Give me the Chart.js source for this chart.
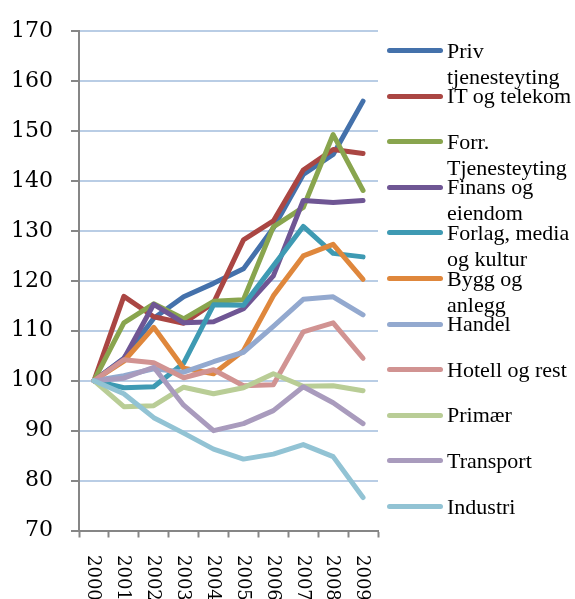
<!DOCTYPE html>
<html>
<head>
<meta charset="utf-8">
<script src="https://cdn.jsdelivr.net/npm/chart.js@4"></script>
<style>
  body { margin: 0; background: #fff; }
  .wrap { position: relative; width: 575px; height: 599px; }
  #legend { position: absolute; left: 0; top: 0; }
  .item { position: absolute; left: 387px; width: 188px; height: 46px; }
  .item .swatch { position: absolute; left: 0; top: 10.5px; width: 56px; height: 5px; border-radius: 3px; }
  .item .txt {
    position: absolute; left: 60px; top: 0; width: 128px;
    font-family: "Liberation Serif", serif; font-size: 22px; line-height: 26px; color: #000;
  }
</style>
</head>
<body>
<div class="wrap">
  <canvas id="myLineChart" width="575" height="599"></canvas>
  <div id="legend"></div>
</div>
<script>
// kategorier og serier (indeks, 2000 = 100)
const years = ["2000", "2001", "2002", "2003", "2004", "2005", "2006", "2007", "2008", "2009"];
const yTicks = [70, 80, 90, 100, 110, 120, 130, 140, 150, 160, 170];

const seriesNames = [
  "Priv tjenesteyting",
  "IT og telekom",
  "Forr. Tjenesteyting",
  "Finans og eiendom",
  "Forlag, media og kultur",
  "Bygg og anlegg",
  "Handel",
  "Hotell og rest",
  "Primær",
  "Transport",
  "Industri",
];
const seriesColors = [
  "#4471AB", "#AA4643", "#89A54E", "#6F5694", "#3E9AB3", "#DF873C",
  "#93A9CF", "#D19392", "#B9CD96", "#A99BBD", "#92C3D4",
];

const priv = [100, 104.5, 112.5, 116.8, 119.5, 122.4, 130.6, 141.3, 145.3, 156];
const itTelekom = [100, 116.9, 112.8, 111.5, 115.6, 128.2, 132, 142.2, 146.3, 145.5];
const forr = [100, 111.6, 115.4, 112.4, 115.9, 116.2, 130.8, 134.7, 149.3, 138.1];
const finans = [100, 104.4, 115.3, 111.6, 111.8, 114.4, 121, 136.1, 135.7, 136.1];
const forlag = [100, 98.6, 98.8, 103.5, 115.2, 115.1, 123, 130.9, 125.5, 124.8];
const bygg = [100, 103.9, 110.7, 102.5, 101.4, 106, 117, 125, 127.3, 120.3];
const handel = [100, 101, 102.4, 101.7, 103.8, 105.7, 110.9, 116.3, 116.8, 113.2];
const hotell = [100, 104.2, 103.6, 100.6, 102.2, 99, 99.2, 109.8, 111.6, 104.5];
const primaer = [100, 94.8, 95, 98.7, 97.4, 98.6, 101.4, 98.9, 99, 98];
const transport = [100, 100.5, 102.7, 95.1, 90, 91.4, 94, 98.8, 95.6, 91.4];
const industri = [100, 97.4, 92.6, 89.5, 86.3, 84.3, 85.3, 87.2, 84.8, 76.6];

const seriesData = [priv, itTelekom, forr, finans, forlag, bygg, handel, hotell, primaer, transport, industri];

const datasets = seriesData.map((values, i) => ({
  label: seriesNames[i],
  data: values,
  borderColor: seriesColors[i],
  backgroundColor: seriesColors[i],
  borderWidth: 5,
  pointRadius: 0,
  tension: 0,
  borderCapStyle: "round",
  borderJoinStyle: "round",
  order: seriesData.length - i, // siste serie tegnes øverst
}));

// årstall skrevet nedover (rotert med klokka)
const xLabelsPlugin = {
  id: "xLabels",
  afterDraw(chart) {
    const ctx = chart.ctx;
    const xScale = chart.scales.x;
    ctx.save();
    ctx.font = '18px "DejaVu Serif"';
    ctx.fillStyle = "#000";
    ctx.textAlign = "left";
    ctx.textBaseline = "middle";
    years.forEach((label, i) => {
      const x = xScale.getPixelForValue(i);
      ctx.save();
      ctx.translate(x - 1, 555);
      ctx.rotate(Math.PI / 2);
      ctx.fillText(label, 0, 0);
      ctx.restore();
    });
    ctx.restore();
  },
};

const ctx = document.getElementById("myLineChart").getContext("2d");
new Chart(ctx, {
  type: "line",
  data: { labels: years, datasets: datasets },
  options: {
    responsive: false,
    animation: false,
    layout: { padding: { top: 23.5, right: 197, left: 0, bottom: 0 } },
    plugins: { legend: { display: false }, tooltip: { enabled: false } },
    scales: {
      x: {
        offset: true,
        afterFit: (scale) => { scale.height = 68.5; },
        grid: {
          offset: true,
          drawOnChartArea: false,
          drawTicks: true,
          tickLength: 7,
          tickColor: "#868686",
          tickWidth: 2,
        },
        border: { color: "#868686", width: 2 },
        ticks: { display: false },
      },
      y: {
        min: 70,
        max: 170,
        afterFit: (scale) => { scale.width = 79; },
        afterBuildTicks: (scale) => { scale.ticks = yTicks.map((v) => ({ value: v })); },
        grid: {
          color: "#B9CDE5",
          lineWidth: 2,
          tickLength: 8,
          tickColor: "#868686",
          tickWidth: 2,
        },
        border: { color: "#868686", width: 2 },
        ticks: {
          padding: 18,
          color: "#000",
          font: { family: "DejaVu Serif", size: 22 },
        },
      },
    },
  },
  plugins: [xLabelsPlugin],
});

// egen forklaring med linjeskift som i originalen
const legend = document.getElementById("legend");
seriesNames.forEach((name, i) => {
  const item = document.createElement("div");
  item.className = "item";
  item.style.top = (37.5 + i * 45.6) + "px";
  const swatch = document.createElement("div");
  swatch.className = "swatch";
  swatch.style.background = seriesColors[i];
  const txt = document.createElement("div");
  txt.className = "txt";
  txt.textContent = name;
  item.appendChild(swatch);
  item.appendChild(txt);
  legend.appendChild(item);
});
</script>
</body>
</html>
